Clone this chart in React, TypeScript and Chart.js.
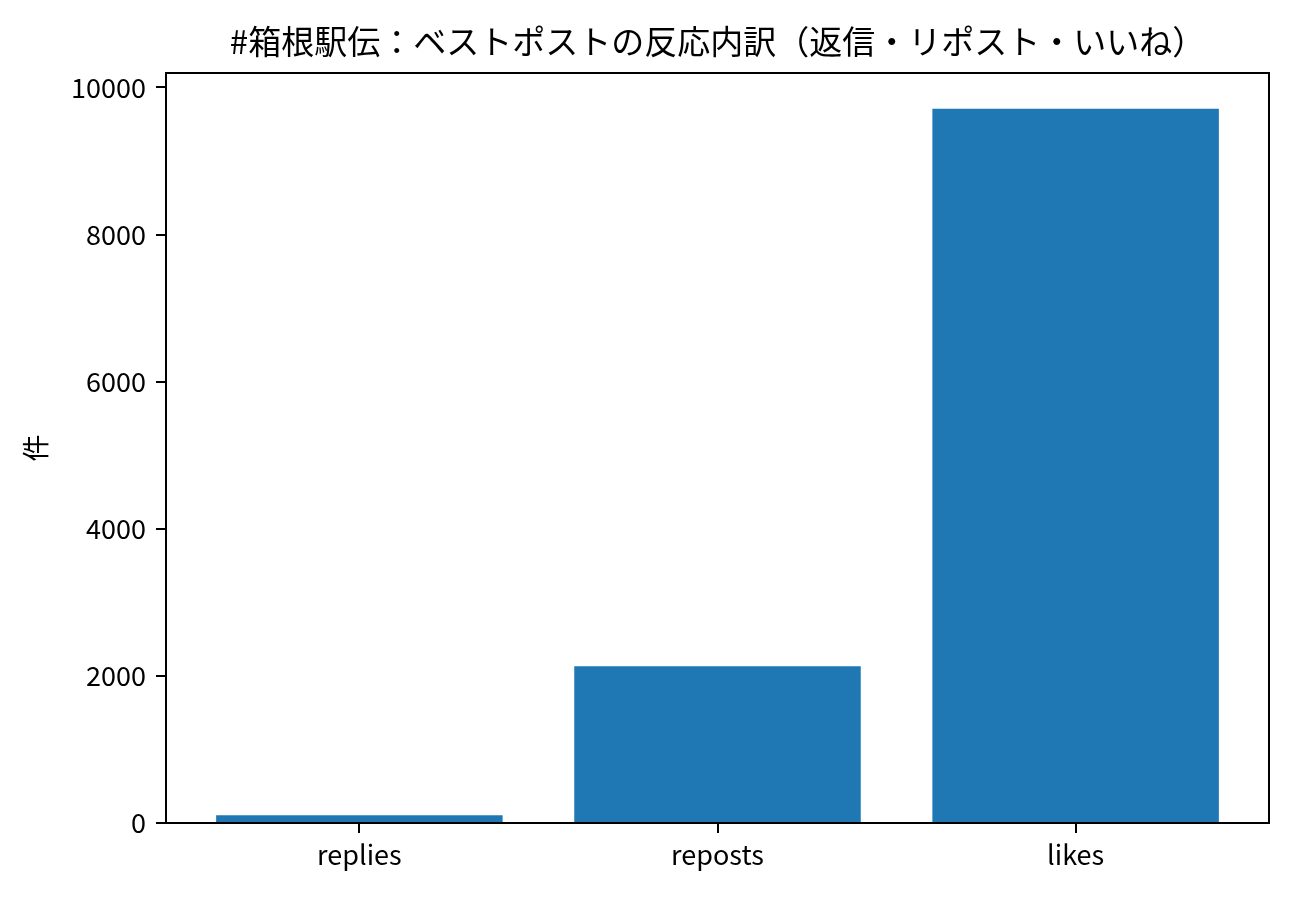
import { useEffect, useRef } from 'react';
import { Chart, registerables } from 'chart.js';

Chart.register(...registerables);

const CATEGORIES = ['replies', 'reposts', 'likes'];
const COUNTS = [105, 2130, 9710];
const Y_TICKS = [0, 2000, 4000, 6000, 8000, 10000];

const TITLE = '#箱根駅伝：ベストポストの反応内訳（返信・リポスト・いいね）';
const Y_LABEL = '件';
const FONT = '"Noto Sans CJK JP", "Noto Sans", sans-serif';

// matplotlib-style frame (all four spines) and a title centred over the axes
const framePlugin = {
  id: 'frame',
  afterDraw(chart: Chart) {
    const { ctx, chartArea } = chart;
    ctx.save();
    ctx.strokeStyle = '#000';
    ctx.lineWidth = 2;
    ctx.strokeRect(chartArea.left, chartArea.top, chartArea.right - chartArea.left, chartArea.bottom - chartArea.top);
    ctx.fillStyle = '#000';
    ctx.font = `33px ${FONT}`;
    ctx.textAlign = 'center';
    ctx.textBaseline = 'middle';
    ctx.fillText(TITLE, (chartArea.left + chartArea.right) / 2, 41);
    ctx.restore();
  }
};

export default function App() {
  const canvasRef = useRef<HTMLCanvasElement>(null);

  useEffect(() => {
    document.body.style.margin = '0';
    if (!canvasRef.current) return;

    const chart = new Chart(canvasRef.current, {
      type: 'bar',
      data: {
        datasets: [{
          label: 'count',
          data: COUNTS.map((v, i) => ({ x: i, y: v })),
          backgroundColor: '#1f77b4',
          categoryPercentage: 0.8,
          barPercentage: 1.0,
          borderWidth: 0
        }]
      },
      plugins: [framePlugin],
      options: {
        responsive: false,
        animation: false,
        devicePixelRatio: 1,
        layout: { padding: { left: 0, right: 31, top: 73, bottom: 0 } },
        scales: {
          x: {
            type: 'linear',
            offset: false,
            min: -0.54,
            max: CATEGORIES.length - 1 + 0.54,
            afterBuildTicks: (axis: any) => {
              axis.ticks = CATEGORIES.map((_, i) => ({ value: i }));
            },
            afterFit: (axis: any) => { axis.height = 77; },
            ticks: {
              color: '#000',
              font: { family: FONT, size: 27 },
              padding: 6,
              maxRotation: 0,
              callback: (v: any) => CATEGORIES[Number(v)] ?? ''
            },
            grid: { offset: false, drawOnChartArea: false, color: '#000', lineWidth: 2, tickLength: 10 },
            border: { color: '#000', width: 2 }
          },
          y: {
            min: 0,
            max: Math.max(...COUNTS) * 1.05,
            afterBuildTicks: (axis: any) => {
              axis.ticks = Y_TICKS.map(v => ({ value: v }));
            },
            afterFit: (axis: any) => { axis.width = 166; },
            ticks: {
              color: '#000',
              font: { family: FONT, size: 27 },
              padding: 10,
              callback: (v: any) => String(v)
            },
            grid: { drawOnChartArea: false, color: '#000', lineWidth: 2, tickLength: 10 },
            border: { color: '#000', width: 2 },
            title: {
              display: true,
              text: Y_LABEL,
              color: '#000',
              font: { family: FONT, size: 27 },
              padding: { top: 20, bottom: 0 }
            }
          }
        },
        plugins: {
          legend: { display: false },
          tooltip: { enabled: false },
          title: { display: false }
        }
      }
    });

    return () => chart.destroy();
  }, []);

  return (
    <div style={{ width: 1300, height: 900, background: '#fff' }}>
      <canvas ref={canvasRef} width={1300} height={900} />
    </div>
  );
}
